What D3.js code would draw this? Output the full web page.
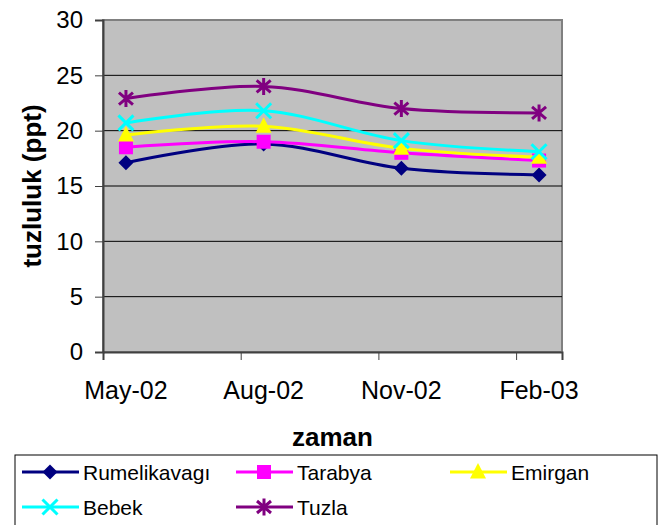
<!DOCTYPE html>
<html>

<head>
    <script type="text/javascript" src="https://d3js.org/d3.v7.min.js"></script>
    <style>
        body { margin: 0; background: white; }
        text { font-family: Arial, "Liberation Sans", sans-serif; }
    </style>
</head>

<body>
    <script>

        var w = 660, h = 525
        var svg = d3.select('body').append('svg')
        svg.attr('width', w).attr('height', h);

        // data
        var months = ["May-02", "Aug-02", "Nov-02", "Feb-03"]
        var monthPos = [0.5, 3.5, 6.5, 9.5]   // months after 1 May 2002
        var tickPos = [0, 3, 6, 9]
        var yTicks = [0, 5, 10, 15, 20, 25, 30]
        var names = ["Rumelikavagı", "Tarabya", "Emirgan", "Bebek", "Tuzla"]
        var rumelikavagi = [17.1, 18.8, 16.6, 16.0]
        var tarabya = [18.5, 19.0, 18.0, 17.3]
        var emirgan = [19.6, 20.4, 18.4, 17.6]
        var bebek = [20.7, 21.8, 19.1, 18.1]
        var tuzla = [22.9, 24.0, 22.0, 21.6]

        var series = [rumelikavagi, tarabya, emirgan, bebek, tuzla]
        var colors = ["#000080", "#FF00FF", "#FFFF00", "#00FFFF", "#800080"]
        var markers = ["diamond", "square", "triangle", "x", "star"]

        var pLeft = 103, pRight = 562, pTop = 20, pBottom = 352

        let xscale = d3.scaleLinear()
            .domain([0, 10])
            .range([pLeft, pRight])

        let yscale = d3.scaleLinear()
            .domain([0, 30])
            .range([pBottom, pTop])

        // plot area
        svg.append("rect")
            .attr("x", pLeft)
            .attr("y", pTop)
            .attr("width", pRight - pLeft)
            .attr("height", pBottom - pTop)
            .attr("fill", "#C0C0C0")
            .attr("stroke", "#808080")
            .attr("stroke-width", 2)

        // gridlines
        svg.append("g")
            .selectAll("line")
            .data(yTicks.slice(1, -1))
            .enter().append("line")
            .attr("x1", pLeft).attr("x2", pRight)
            .attr("y1", d => yscale(d)).attr("y2", d => yscale(d))
            .attr("stroke", "black")
            .attr("stroke-width", 1)

        // y axis
        var yAxis = svg.append("g")
            .attr("transform", "translate(" + pLeft + ",0)")
            .call(d3.axisLeft(yscale).tickValues(yTicks).tickSize(8).tickPadding(12))
        yAxis.select(".domain").attr("stroke", "#404040").attr("stroke-width", 2)
        yAxis.selectAll(".tick line").attr("stroke", "#404040")
        yAxis.selectAll("text")
            .attr("font-size", "24px")
            .attr("font-family", "Arial, 'Liberation Sans', sans-serif")
            .attr("fill", "black")

        // x axis
        var xAxis = svg.append("g")
            .attr("transform", "translate(0," + pBottom + ")")
            .call(d3.axisBottom(xscale).tickValues(tickPos).tickSize(8).tickFormat(""))
        xAxis.select(".domain").attr("stroke", "#404040").attr("stroke-width", 2)
        xAxis.selectAll(".tick line").attr("stroke", "#404040")

        svg.append("g")
            .selectAll("text")
            .data(months)
            .enter().append("text")
            .attr("x", (d, i) => xscale(monthPos[i]))
            .attr("y", 399)
            .attr("text-anchor", "middle")
            .attr("font-size", "25px")
            .text(d => d)

        // axis titles
        svg.append("text")
            .attr("transform", "rotate(-90)")
            .attr("y", 41)
            .attr("x", -(pTop + pBottom) / 2)
            .attr("font-weight", "bold")
            .style("text-anchor", "middle")
            .attr("font-size", "26px")
            .text("tuzluluk (ppt)");

        svg.append("text")
            .attr("y", 446)
            .attr("x", (pLeft + pRight) / 2)
            .attr("font-weight", "bold")
            .style("text-anchor", "middle")
            .attr("font-size", "26px")
            .text("zaman")

        function drawMarker(g, type, color, x, y) {
            if (type == "diamond") {
                g.append("path")
                    .attr("d", "M" + x + "," + (y - 7.5) + "L" + (x + 7.5) + "," + y + "L" + x + "," + (y + 7.5) + "L" + (x - 7.5) + "," + y + "Z")
                    .attr("fill", color)
            } else if (type == "square") {
                g.append("rect")
                    .attr("x", x - 7).attr("y", y - 7)
                    .attr("width", 14).attr("height", 14)
                    .attr("fill", color)
            } else if (type == "triangle") {
                g.append("path")
                    .attr("d", "M" + x + "," + (y - 9) + "L" + (x + 8) + "," + (y + 6.5) + "L" + (x - 8) + "," + (y + 6.5) + "Z")
                    .attr("fill", color)
            } else if (type == "x") {
                g.append("path")
                    .attr("d", "M" + (x - 7.5) + "," + (y - 7.5) + "L" + (x + 7.5) + "," + (y + 7.5) + "M" + (x + 7.5) + "," + (y - 7.5) + "L" + (x - 7.5) + "," + (y + 7.5))
                    .attr("stroke", color).attr("stroke-width", 3).attr("fill", "none")
            } else if (type == "star") {
                g.append("path")
                    .attr("d", "M" + (x - 7) + "," + (y - 6) + "L" + (x + 7) + "," + (y + 6) + "M" + (x + 7) + "," + (y - 6) + "L" + (x - 7) + "," + (y + 6) + "M" + x + "," + (y - 8.5) + "L" + x + "," + (y + 8.5))
                    .attr("stroke", color).attr("stroke-width", 3).attr("fill", "none")
            }
        }

        var line = d3.line()
            .x((d, i) => xscale(monthPos[i]))
            .y(d => yscale(d))
            .curve(d3.curveCatmullRom.alpha(0))

        series.forEach(function (s, k) {
            var g = svg.append("g")
            g.append("path")
                .datum(s)
                .attr("d", line)
                .attr("fill", "none")
                .attr("stroke", colors[k])
                .attr("stroke-width", 3)
            s.forEach(function (v, i) {
                drawMarker(g, markers[k], colors[k], xscale(monthPos[i]), yscale(v))
            })
        })

        // legend
        svg.append("rect")
            .attr("x", 15)
            .attr("y", 455)
            .attr("width", 642)
            .attr("height", 80)
            .attr("fill", "white")
            .attr("stroke", "black")
            .attr("stroke-width", 1)

        names.forEach(function (n, k) {
            var col = k % 3, row = Math.floor(k / 3)
            var lx = 22 + col * 214, ly = 472 + row * 35
            var g = svg.append("g")
            g.append("line")
                .attr("x1", lx).attr("x2", lx + 57)
                .attr("y1", ly).attr("y2", ly)
                .attr("stroke", colors[k])
                .attr("stroke-width", 3)
            drawMarker(g, markers[k], colors[k], lx + 28, ly)
            g.append("text")
                .attr("x", lx + 61)
                .attr("y", ly + 8)
                .attr("font-size", "21px")
                .text(n)
        })

    </script>
</body>
</html>
